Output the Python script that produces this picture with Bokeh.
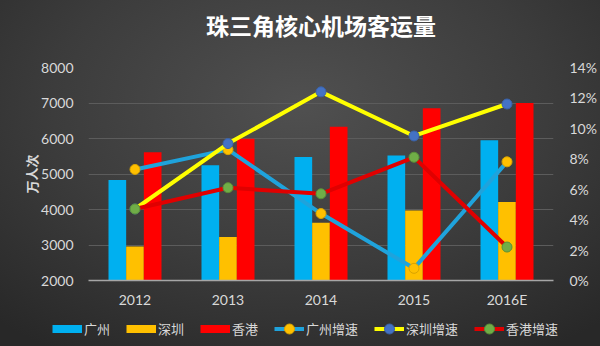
from bokeh.plotting import figure
from bokeh.layouts import column
from bokeh.models import (ColumnDataSource, FactorRange, Range1d, LinearAxis,
                          SingleIntervalTicker, PrintfTickFormatter, Legend,
                          LegendItem, Title)
from bokeh.transform import dodge
from bokeh.embed import file_html
from bokeh.resources import INLINE

# ---- data ----
years = ["2012", "2013", "2014", "2015", "2016E"]
guangzhou = [4831, 5245, 5478, 5520, 5950]     # 万人次
shenzhen = [2957, 3227, 3627, 3972, 4210]
hongkong = [5610, 5990, 6330, 6850, 7000]
guangzhou_growth = [7.3, 8.6, 4.4, 0.8, 7.8]   # %
shenzhen_growth = [4.7, 9.0, 12.4, 9.5, 11.6]
hongkong_growth = [4.7, 6.1, 5.7, 8.1, 2.2]

title_text = "珠三角核心机场客运量"
y_title = "万人次"
bar_names = ["广州", "深圳", "香港"]
line_names = ["广州增速", "深圳增速", "香港增速"]
bar_colors = ["#00b0f0", "#ffc000", "#ff0000"]
line_colors = ["#1fa3dc", "#ffff00", "#e00000"]
marker_colors = ["#ffc000", "#4472c4", "#70ad47"]
marker_edges = ["#d9a300", "#3a62a8", "#5a9038"]

src = ColumnDataSource(dict(year=years, gz=guangzhou, sz=shenzhen, hk=hongkong,
                            gzg=guangzhou_growth, szg=shenzhen_growth,
                            hkg=hongkong_growth))

CJK = "Noto Sans CJK SC"
LAT = "Lato"
TXT = "#d9d9d9"

# ---------------- main chart ----------------
p = figure(x_range=FactorRange(*years), y_range=Range1d(2000, 8000),
           width=600, height=314, output_backend="svg", toolbar_location=None,
           min_border_left=88, min_border_right=47, min_border_top=66,
           min_border_bottom=34, title=title_text)
p.frame_align = False
p.border_fill_alpha = 0
p.background_fill_alpha = 0
p.outline_line_color = None

p.title.text_font = CJK
p.title.text_font_size = "23px"
p.title.text_font_style = "bold"
p.title.text_color = "#ffffff"
p.title.align = "center"
p.title.offset = -20
# blank spacer between the title and the plot area
p.add_layout(Title(text=" ", text_font_size="8px"), "above")

p.extra_y_ranges = {"pct": Range1d(0, 14)}

bw = 0.19
for i, (col, c) in enumerate(zip(["gz", "sz", "hk"], bar_colors)):
    p.vbar(x=dodge("year", (i - 1) * bw, range=p.x_range), top=col,
           bottom=2000, width=bw, source=src, fill_color=c, line_color=None)

for col, lc, mc, me in zip(["gzg", "szg", "hkg"], line_colors, marker_colors,
                           marker_edges):
    p.line("year", col, source=src, y_range_name="pct", line_color=lc,
           line_width=4, line_join="round")
    p.scatter("year", col, source=src, y_range_name="pct", size=10,
              fill_color=mc, line_color=me, line_width=1)

p.yaxis.ticker = SingleIntervalTicker(interval=1000)
p.yaxis.axis_line_color = None
p.yaxis.major_tick_line_color = None
p.yaxis.minor_tick_line_color = None
p.yaxis.major_label_standoff = 9
p.yaxis.major_label_text_color = TXT
p.yaxis.major_label_text_font = LAT
p.yaxis.major_label_text_font_size = "14px"
p.yaxis.axis_label = y_title
p.yaxis.axis_label_text_font = CJK
p.yaxis.axis_label_text_font_size = "13px"
p.yaxis.axis_label_text_font_style = "bold"
p.yaxis.axis_label_text_color = TXT
p.yaxis.axis_label_standoff = -3

ra = LinearAxis(y_range_name="pct", ticker=SingleIntervalTicker(interval=2),
                formatter=PrintfTickFormatter(format="%d%%"))
ra.axis_line_color = None
ra.major_tick_line_color = None
ra.minor_tick_line_color = None
ra.major_label_standoff = 10
ra.major_label_text_color = TXT
ra.major_label_text_font = LAT
ra.major_label_text_font_size = "14px"
p.add_layout(ra, "right")

p.xaxis.axis_line_color = "#a6a6a6"
p.xaxis.axis_line_width = 1.5
p.xaxis.major_tick_line_color = None
p.xaxis.minor_tick_line_color = None
p.xaxis.major_label_standoff = 4
p.xaxis.major_label_text_color = TXT
p.xaxis.major_label_text_font = LAT
p.xaxis.major_label_text_font_size = "14px"

p.xgrid.grid_line_color = None
p.ygrid.grid_line_color = "#5c5c5c"
p.ygrid.grid_line_width = 1

# ---------------- legend strip ----------------
lf = figure(width=600, height=32, x_range=Range1d(0, 1), y_range=Range1d(0, 1),
            output_backend="svg", toolbar_location=None, min_border=0,
            x_axis_location=None, y_axis_location=None)
lf.frame_align = False
lf.border_fill_alpha = 0
lf.background_fill_alpha = 0
lf.outline_line_color = None
lf.grid.visible = False

items = []
for n, c in zip(bar_names, bar_colors):
    r = lf.line(x=[0], y=[0], line_color=c, line_width=8, line_cap="butt",
                visible=False)
    items.append(LegendItem(label=n, renderers=[r]))
for n, lc, mc, me in zip(line_names, line_colors, marker_colors, marker_edges):
    r1 = lf.line(x=[0], y=[0], line_color=lc, line_width=4, visible=False)
    r2 = lf.scatter(x=[0], y=[0], size=10, fill_color=mc, line_color=me,
                    line_width=1, visible=False)
    items.append(LegendItem(label=n, renderers=[r1, r2]))

leg = Legend(items=items, orientation="horizontal", location=(52, 5),
             glyph_width=30, glyph_height=25, label_standoff=2, spacing=16,
             padding=0, margin=0, border_line_color=None,
             background_fill_alpha=0, label_text_color=TXT,
             label_text_font=CJK, label_text_font_size="13px",
             inactive_fill_alpha=0)
lf.add_layout(leg)

layout = column(p, lf, spacing=0)
layout.styles = {"background": "radial-gradient(ellipse 75% 85% at 50% 30%, #505050 0%, #3c3c3c 55%, #282828 100%)"}

open("out.html", "w").write(file_html(layout, INLINE))
